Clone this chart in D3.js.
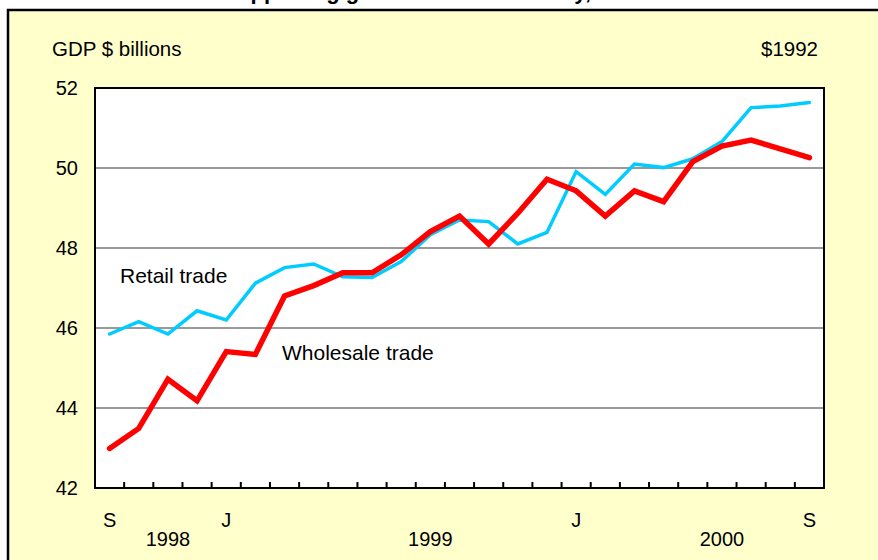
<!DOCTYPE html>
<html>
<head>
<meta charset="utf-8">
<script src="https://cdn.jsdelivr.net/npm/d3@7"></script>
<style>
  body { margin: 0; background: #fff; }
  svg text { font-family: "Liberation Sans", Arial, sans-serif; fill: #000; }
</style>
</head>
<body>
<div id="chart"></div>
<script>
// months Sep 1998 .. Sep 2000
var months = ["1998-09","1998-10","1998-11","1998-12","1999-01","1999-02","1999-03","1999-04",
  "1999-05","1999-06","1999-07","1999-08","1999-09","1999-10","1999-11","1999-12","2000-01",
  "2000-02","2000-03","2000-04","2000-05","2000-06","2000-07","2000-08","2000-09"];
var monthLabels = ["S","","","","J","","","","","","","","","","","","J","","","","","","","","S"];
var retail = [45.85,46.16,45.85,46.43,46.2,47.12,47.51,47.6,47.28,47.26,47.66,48.33,48.7,48.66,
  48.1,48.39,49.91,49.34,50.1,50.01,50.23,50.66,51.51,51.55,51.64];
var wholesale = [42.99,43.49,44.72,44.18,45.41,45.34,46.8,47.06,47.38,47.38,47.83,48.41,48.8,48.1,
  48.87,49.72,49.43,48.8,49.43,49.16,50.16,50.55,50.7,50.48,50.26];
var years = ["1998","1999","2000"];
var yearAt = ["1998-11","1999-08","2000-06"];
var yTicks = [42,44,46,48,50,52];

var svgWidth = 878, svgHeight = 560;
var margin = {top: 88, left: 95, right: 54, bottom: 72};
var width = svgWidth - margin.left - margin.right;
var height = svgHeight - margin.top - margin.bottom;

var svg = d3.select("#chart").append("svg")
  .attr("width", svgWidth)
  .attr("height", svgHeight);

// title sits above the frame, only its descenders show
svg.append("text")
  .attr("x", 160).attr("y", -1)
  .attr("font-size", 22).attr("font-weight", "bold")
  .text("Trade supporting growth in the economy, 1998-2000");

// yellow frame
svg.append("rect")
  .attr("x", 8).attr("y", 10)
  .attr("width", svgWidth + 10).attr("height", svgHeight)
  .attr("fill", "#ffffcc")
  .attr("stroke", "#000")
  .attr("stroke-width", 2.5);

var chartGroup = svg.append("g")
  .attr("transform", `translate(${margin.left}, ${margin.top})`);

chartGroup.append("rect")
  .attr("width", width).attr("height", height)
  .attr("fill", "#fff");

var x = d3.scaleBand().domain(months).range([0, width]).padding(0);
var y = d3.scaleLinear().domain([42, 52]).range([height, 0]);
var cx = d => x(d) + x.bandwidth() / 2;

// gridlines
chartGroup.selectAll(".grid").data(yTicks.slice(1, -1)).enter()
  .append("line")
  .attr("x1", 0).attr("x2", width)
  .attr("y1", d => y(d)).attr("y2", d => y(d))
  .attr("stroke", "#999").attr("stroke-width", 2);

// y tick labels
chartGroup.selectAll(".ylab").data(yTicks).enter()
  .append("text")
  .attr("x", -17).attr("y", d => y(d) + 7)
  .attr("text-anchor", "end")
  .attr("font-size", 20)
  .text(d => d);

// small ticks on the bottom axis at month boundaries
chartGroup.selectAll(".tick").data(months.slice(1)).enter()
  .append("line")
  .attr("x1", d => x(d)).attr("x2", d => x(d))
  .attr("y1", height).attr("y2", height - 6)
  .attr("stroke", "#000").attr("stroke-width", 2);

chartGroup.append("rect")
  .attr("width", width).attr("height", height)
  .attr("fill", "none").attr("stroke", "#000").attr("stroke-width", 2);

// month letters
chartGroup.selectAll(".mlab").data(months).enter()
  .append("text")
  .attr("x", cx).attr("y", height + 39)
  .attr("text-anchor", "middle")
  .attr("font-size", 20)
  .text((d, i) => monthLabels[i]);

// years
chartGroup.selectAll(".yr").data(years).enter()
  .append("text")
  .attr("x", (d, i) => cx(yearAt[i])).attr("y", height + 58)
  .attr("text-anchor", "middle")
  .attr("font-size", 20)
  .text(d => d);

var line = d3.line()
  .x((d, i) => cx(months[i]))
  .y(d => y(d));

chartGroup.append("path")
  .datum(retail)
  .attr("d", line)
  .attr("fill", "none")
  .attr("stroke", "#00ccff")
  .attr("stroke-width", 3.5)
  .attr("stroke-linecap", "round")
  .attr("stroke-linejoin", "miter");

chartGroup.append("path")
  .datum(wholesale)
  .attr("d", line)
  .attr("fill", "none")
  .attr("stroke", "#ff0000")
  .attr("stroke-width", 5.5)
  .attr("stroke-linecap", "round")
  .attr("stroke-linejoin", "miter");

// series labels
chartGroup.append("text")
  .attr("x", 25).attr("y", 195)
  .attr("font-size", 21)
  .text("Retail trade");

chartGroup.append("text")
  .attr("x", 187).attr("y", 272)
  .attr("font-size", 21)
  .text("Wholesale trade");

// units
svg.append("text")
  .attr("x", 52).attr("y", 56)
  .attr("font-size", 20.5)
  .text("GDP $ billions");

svg.append("text")
  .attr("x", 818).attr("y", 56)
  .attr("text-anchor", "end")
  .attr("font-size", 20.5)
  .text("$1992");
</script>
</body>
</html>
